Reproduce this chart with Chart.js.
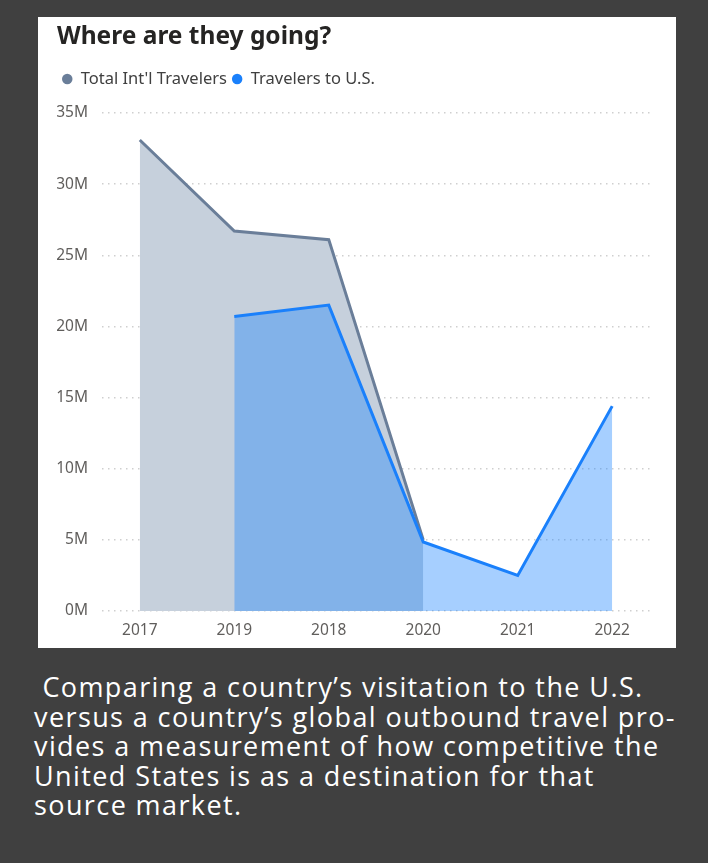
<!DOCTYPE html>
<html>
<head>
<meta charset="utf-8">
<script src="https://cdn.jsdelivr.net/npm/chart.js@4/dist/chart.umd.min.js"></script>
<style>
  html, body { margin: 0; padding: 0; background: #404040; width: 708px; height: 863px; overflow: hidden; }
  #panel { position: absolute; left: 38px; top: 17px; width: 638px; height: 631px; background: #ffffff; }
  #caption { position: absolute; left: 34px; top: 672px; width: 674px; color: #ffffff;
    font-family: "Open Sans", sans-serif; font-size: 27px; line-height: 29.5px; letter-spacing: 1.4px; white-space: pre; }
</style>
</head>
<body>
<div id="panel"><canvas id="c" width="638" height="631"></canvas></div>
<div id="caption"> Comparing a country’s visitation to the U.S.
versus a country’s global outbound travel pro-
vides a measurement of how competitive the
United States is as a destination for that
source market.</div>
<script>
const categories = ["2017", "2019", "2018", "2020", "2021", "2022"];
const totalIntl = [33.1, 26.7, 26.1, 5.0, null, null];
const toUS = [null, 20.7, 21.5, 4.85, 2.5, 14.4];
const yTicks = [0, 5, 10, 15, 20, 25, 30, 35];

const pts = arr => arr.map((v, i) => ({ x: i, y: v }));
const FAMILY = "'Segoe UI', 'Noto Sans', sans-serif";
const labelFont = { family: FAMILY, size: 15.5 };

const LEGEND_HEIGHT = 47.3;

new Chart(document.getElementById('c'), {
  type: 'line',
  data: {
    datasets: [
      {
        label: "Total Int'l Travelers",
        data: pts(totalIntl),
        borderColor: '#6a7e99',
        backgroundColor: '#c6d0dc',
        borderWidth: 3,
        fill: 'origin',
        pointRadius: 0,
        order: 2,
        tension: 0
      },
      {
        label: 'Travelers to U.S.',
        data: pts(toUS),
        borderColor: '#1a80fb',
        backgroundColor: 'rgba(22,130,255,0.38)',
        borderWidth: 3,
        fill: 'origin',
        pointRadius: 0,
        order: 1,
        tension: 0
      }
    ]
  },
  options: {
    responsive: false,
    animation: false,
    layout: { padding: { left: 19, right: 26, top: 0, bottom: 0 } },
    plugins: {
      tooltip: { enabled: false },
      title: {
        display: true,
        text: 'Where are they going?',
        align: 'start',
        color: '#252423',
        font: { family: FAMILY, size: 24.5, weight: 'bold', lineHeight: 1.2 },
        padding: { top: 5.3, bottom: 14 }
      },
      legend: {
        display: true,
        align: 'start',
        labels: {
          usePointStyle: true,
          pointStyle: 'circle',
          boxHeight: 7.4,
          pointStyleWidth: 10.5,
          padding: 5,
          color: '#404040',
          font: { family: FAMILY, size: 16.5 },
          sort: (a, b) => a.datasetIndex - b.datasetIndex,
          generateLabels: chart => chart.data.datasets.map((ds, i) => ({
            text: ds.label,
            fillStyle: ds.borderColor,
            strokeStyle: ds.borderColor,
            lineWidth: 0,
            pointStyle: 'circle',
            fontColor: '#404040',
            hidden: false,
            datasetIndex: i
          }))
        }
      }
    },
    scales: {
      x: {
        type: 'linear',
        min: -0.4,
        max: 5.4,
        afterBuildTicks: s => { s.ticks = categories.map((c, i) => ({ value: i })); },
        afterFit: s => { s.height = 37; },
        grid: { display: false, drawTicks: false },
        border: { display: false },
        ticks: {
          padding: 10,
          color: '#605e5c',
          font: labelFont,
          callback: v => categories[v]
        }
      },
      y: {
        min: 0,
        max: 35,
        afterBuildTicks: s => { s.ticks = yTicks.map(v => ({ value: v })); },
        afterFit: s => { s.width = 45; },
        grid: { color: '#cfcfcf', lineWidth: 1.5, drawTicks: false },
        border: { display: false, dash: [1.5, 4.5] },
        ticks: {
          padding: 14,
          color: '#605e5c',
          font: labelFont,
          callback: v => v + 'M'
        }
      }
    }
  },
  plugins: [{
    id: 'legendHeight',
    beforeInit(chart) {
      const lg = chart.legend;
      if (lg) {
        const fit = lg.fit;
        lg.fit = function () { fit.call(this); this.height = LEGEND_HEIGHT; };
      }
    }
  }]
});
</script>
</body>
</html>
